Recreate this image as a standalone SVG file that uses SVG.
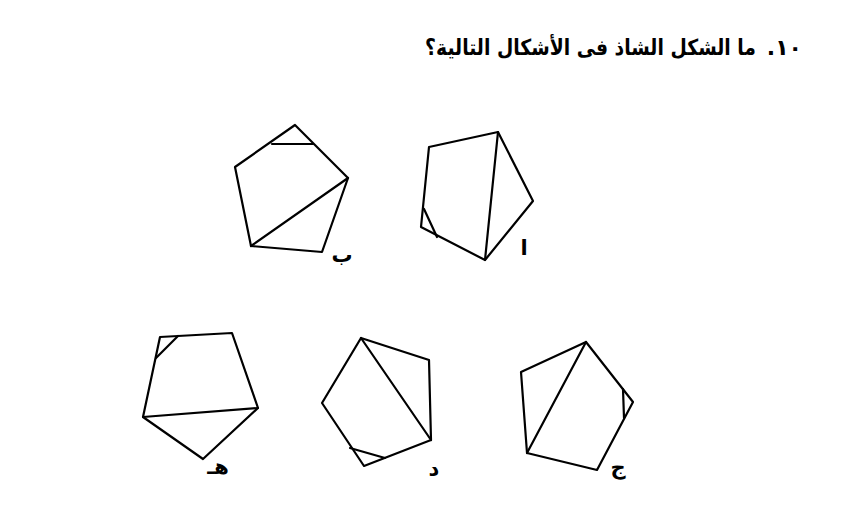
<svg xmlns="http://www.w3.org/2000/svg" width="843" height="507" viewBox="0 0 843 507">
<style>
.s{fill:none;stroke:#000;stroke-width:2.2;stroke-linejoin:round;stroke-linecap:round}
.t{font-family:"DejaVu Sans",sans-serif;font-weight:bold;fill:#000}
.l{font-family:"DejaVu Sans",sans-serif;font-weight:bold;fill:#000;font-size:21px}
</style>
<rect width="843" height="507" fill="#fff"/>
<g id="title">
<text class="t" x="802" y="55" font-size="22" direction="rtl" text-anchor="start">١٠.</text>
<text class="t" transform="translate(756,55) scale(0.855,1)" x="0" y="0" font-size="22" text-anchor="end">ما الشكل الشاذ فى الأشكال التالية؟</text>
</g>
<g id="shape-b">
<polygon class="s" points="295,125 348,178 322,252 251,246 235,167"/>
<line class="s" x1="251" y1="246" x2="348" y2="178"/>
<line class="s" x1="272" y1="144" x2="313" y2="144"/>
<text class="l" x="342" y="262" text-anchor="middle">ب</text>
</g>
<g id="shape-a">
<polygon class="s" points="498,132 533,201 485,260 421,227 429,147"/>
<line class="s" x1="498" y1="132" x2="485" y2="260"/>
<line class="s" x1="424" y1="209" x2="437" y2="237"/>
<text class="l" x="524" y="255" text-anchor="middle" font-size="28">ا</text>
</g>
<g id="shape-h">
<polygon class="s" points="160,337 232,333 258,408 203,459 143,417"/>
<line class="s" x1="143" y1="417" x2="258" y2="408"/>
<line class="s" x1="178" y1="336" x2="156" y2="358"/>
<text class="l" x="218" y="474" text-anchor="middle">هـ</text>
</g>
<g id="shape-d">
<polygon class="s" points="361,338 429,360 431,440 364,466 322,403"/>
<line class="s" x1="361" y1="338" x2="431" y2="440"/>
<line class="s" x1="350" y1="448" x2="385" y2="458"/>
<text class="l" x="434" y="476" text-anchor="middle">د</text>
</g>
<g id="shape-j">
<polygon class="s" points="586,342 633,402 597,470 527,453 521,372"/>
<line class="s" x1="527" y1="453" x2="586" y2="342"/>
<line class="s" x1="623" y1="389" x2="624" y2="418"/>
<text class="l" x="618" y="474" text-anchor="middle">ج</text>
</g>
</svg>
